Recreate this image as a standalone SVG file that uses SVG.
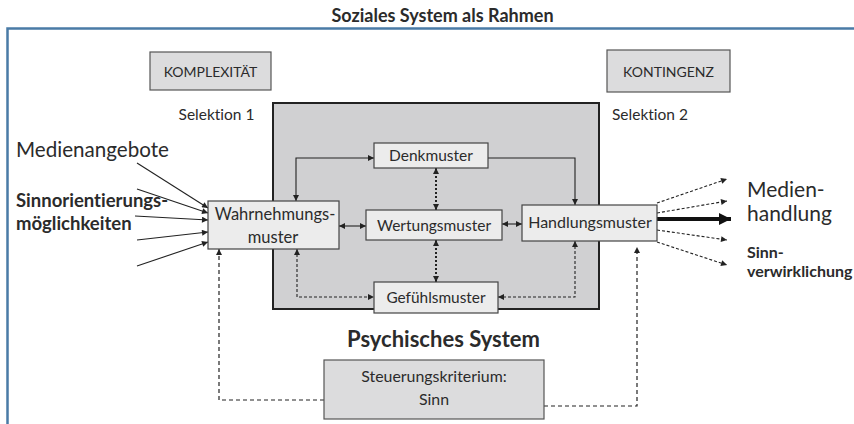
<svg xmlns="http://www.w3.org/2000/svg" width="854" height="424" viewBox="0 0 854 424">
<style>
text{font-family:"Lato","Noto Sans",sans-serif;fill:#2b2b2b;font-variant-ligatures:none}
.b{font-weight:bold}
.box{fill:#ececec;stroke:#444;stroke-width:1.2}
.gbox{fill:#dcdcdd;stroke:#555;stroke-width:1.2}
.ln{fill:none;stroke:#222;stroke-width:1.1}
.dash{fill:none;stroke:#222;stroke-width:1.2;stroke-dasharray:4 3}
.dash2{fill:none;stroke:#222;stroke-width:1.1;stroke-dasharray:3 2}
.dot{fill:none;stroke:#222;stroke-width:2;stroke-dasharray:2 2}
</style>
<defs>
<marker id="ah" viewBox="0 0 10 10" refX="10" refY="5" markerWidth="7" markerHeight="6" markerUnits="userSpaceOnUse" orient="auto-start-reverse">
<path d="M0,0 L10,5 L0,10 z" fill="#222"/>
</marker>
<marker id="big" viewBox="0 0 10 10" refX="10" refY="5" markerWidth="14" markerHeight="12" markerUnits="userSpaceOnUse" orient="auto">
<path d="M0,0 L10,5 L0,10 z" fill="#111"/>
</marker>
</defs>

<text x="442.5" y="21.5" text-anchor="middle" class="b" font-size="18">Soziales System als Rahmen</text>
<path d="M854,28.5 H7.5 V424" fill="none" stroke="#4a7ba6" stroke-width="2.5"/>

<g id="komplexitaet"><rect class="gbox" x="150" y="52" width="121" height="38"/><text x="210.5" y="77" text-anchor="middle" font-size="14">KOMPLEXITÄT</text></g>
<g id="kontingenz"><rect class="gbox" x="607" y="50" width="123" height="42"/><text x="668.5" y="77" text-anchor="middle" font-size="14">KONTINGENZ</text></g>
<text x="216.5" y="120" text-anchor="middle" font-size="15.5">Selektion 1</text>
<text x="612" y="120" font-size="15.5">Selektion 2</text>

<g id="psychisches-system"><rect x="273" y="103" width="326" height="206" fill="#d0d0d2" stroke="#222" stroke-width="2"/></g>

<g id="connectors">
<path class="ln" d="M296,201 V158 H374" marker-start="url(#ah)" marker-end="url(#ah)"/>
<path class="ln" d="M488,158 H575 V205" marker-end="url(#ah)"/>
<path class="dot" d="M436,168 V210" marker-start="url(#ah)" marker-end="url(#ah)"/>
<path class="dot" d="M436,240 V282" marker-start="url(#ah)" marker-end="url(#ah)"/>
<path class="ln" d="M339,226 H366" marker-start="url(#ah)" marker-end="url(#ah)"/>
<path class="ln" d="M502,224 H522" marker-start="url(#ah)" marker-end="url(#ah)"/>
<path class="dash2" d="M297,249 V297 H374" marker-start="url(#ah)" marker-end="url(#ah)"/>
<path class="dash2" d="M575,241 V297 H498" marker-start="url(#ah)" marker-end="url(#ah)"/>
<path class="dash" d="M324,400 H219 V249" marker-end="url(#ah)"/>
<path class="dash" d="M544,406 H637 V247" marker-end="url(#ah)"/>
<path class="ln" d="M137,163 L208,208" marker-end="url(#ah)"/>
<path class="ln" d="M137,189 L208,213" marker-end="url(#ah)"/>
<path class="ln" d="M135,216 L208,220" marker-end="url(#ah)"/>
<path class="ln" d="M137,240 L208,232" marker-end="url(#ah)"/>
<path class="ln" d="M137,266 L208,242" marker-end="url(#ah)"/>
<path class="dash2" d="M657,203 L727,179" marker-end="url(#ah)"/>
<path class="dash2" d="M657,213 L727,201" marker-end="url(#ah)"/>
<path d="M657,219 H731" fill="none" stroke="#111" stroke-width="4" marker-end="url(#big)"/>
<path class="dash2" d="M657,230 L727,240" marker-end="url(#ah)"/>
<path class="dash2" d="M657,242 L727,265" marker-end="url(#ah)"/>
</g>

<g id="denkmuster"><rect class="box" x="374" y="143" width="114" height="25"/><text x="431" y="161" text-anchor="middle" font-size="15.5">Denkmuster</text></g>
<g id="wertungsmuster"><rect class="box" x="366" y="210" width="136" height="30"/><text x="434" y="231" text-anchor="middle" font-size="15.5">Wertungsmuster</text></g>
<g id="wahrnehmungsmuster"><rect class="box" x="208" y="201" width="131" height="48"/><text x="275" y="220" text-anchor="middle" font-size="16.5">Wahrnehmungs-</text><text x="273" y="243" text-anchor="middle" font-size="16.5">muster</text></g>
<g id="handlungsmuster"><rect class="box" x="522" y="205" width="135" height="36"/><text x="590" y="228" text-anchor="middle" font-size="16">Handlungsmuster</text></g>
<g id="gefuehlsmuster"><rect class="box" x="374" y="282" width="124" height="31"/><text x="436" y="303" text-anchor="middle" font-size="15.4">Gefühlsmuster</text></g>

<text x="443.5" y="347" text-anchor="middle" class="b" font-size="22">Psychisches System</text>
<g id="steuerungskriterium"><rect class="gbox" x="324" y="360" width="220" height="59"/><text x="434" y="382" text-anchor="middle" font-size="15.9">Steuerungskriterium:</text><text x="434" y="405" text-anchor="middle" font-size="15.9">Sinn</text></g>

<text x="16" y="157" font-size="20.6">Medienangebote</text>
<text x="16" y="207" class="b" font-size="18.5">Sinnorientierungs-</text>
<text x="16" y="230" class="b" font-size="18.5">möglichkeiten</text>
<text x="747" y="197" font-size="21">Medien-</text>
<text x="747" y="221" font-size="21">handlung</text>
<text x="747" y="258" class="b" font-size="16">Sinn-</text>
<text x="747" y="277" class="b" font-size="16">verwirklichung</text>
</svg>
